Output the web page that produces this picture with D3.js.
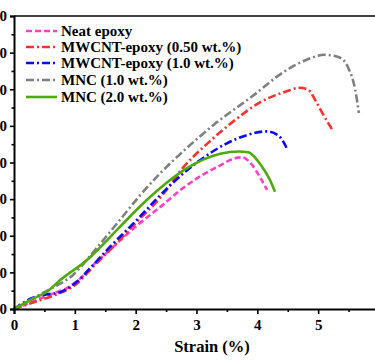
<!DOCTYPE html>
<html><head><meta charset="utf-8">
<script src="https://cdn.jsdelivr.net/npm/d3@7"></script>
<style>
html,body{margin:0;padding:0;background:#fff;overflow:hidden;}
svg{display:block;}
text{font-family:"Liberation Serif","Times New Roman",serif;font-weight:bold;fill:#000;}
</style></head>
<body>
<svg id="chart" width="375" height="360"></svg>
<script>
const seriesNames = ["Neat epoxy","MWCNT-epoxy (0.50 wt.%)","MWCNT-epoxy (1.0 wt.%)","MNC (1.0 wt.%)","MNC (2.0 wt.%)"];
const seriesColors = ["#ff40c8","#ff3030","#0a0aff","#808080","#4eaa0a"];
const seriesDash = ["6,3","8,3,2,3","8,3,2,3","8,3,2,3",null];

const neatEpoxy = [[0,0],[0.3,2],[0.6,4],[0.9,6],[1.1,8.5],[1.3,12],[1.6,16.5],[2,22.5],[2.4,27.8],[2.8,33.3],[3.1,36.6],[3.4,39.3],[3.6,41],[3.75,41.4],[3.9,39.6],[4.05,35.8],[4.16,32.5]];
const mwcnt050 = [[0,0],[0.35,2],[0.7,4],[1.0,6.5],[1.3,11.5],[1.6,16.5],[2,23.5],[2.4,30.3],[2.8,39],[3.2,45.5],[3.65,51.8],[4.05,56.5],[4.46,59.3],[4.7,60.4],[4.84,59.8],[4.95,57.1],[5.07,53.5],[5.25,48.4]];
const mwcnt10 = [[0,0],[0.3,3],[0.55,4],[0.76,4.6],[1.03,7.4],[1.3,12],[1.58,17],[2,24],[2.4,31],[2.81,37.4],[3.14,41.6],[3.52,45.4],[3.85,47.6],[4.16,48.5],[4.35,47.3],[4.45,45],[4.5,43.2]];
const mnc10 = [[0,0],[0.32,3],[0.6,5.5],[0.97,9.3],[1.3,15.5],[1.74,24.3],[2.07,31],[2.4,37],[2.81,43.5],[3.3,50.5],[3.91,58],[4.46,65],[4.8,68],[5.11,69.4],[5.36,68.6],[5.49,66],[5.61,59.8],[5.67,53.5]];
const mnc20 = [[0,0],[0.3,2.7],[0.54,4.7],[0.76,7.9],[1.2,13.4],[1.74,22.4],[2.07,28],[2.4,33],[2.9,39],[3.39,42.4],[3.7,43],[3.85,42.8],[3.98,41],[4.08,38.8],[4.2,35.5],[4.29,32]];
const allSeries = [neatEpoxy, mwcnt050, mwcnt10, mnc10, mnc20];

const xTicks = [0,1,2,3,4,5,6];
const yTicks = [0,10,20,30,40,50,60,70,80];
const xLabel = "Strain (%)";

const svg = d3.select("#chart");
const x = d3.scaleLinear().domain([0,6]).range([14,379]);
const y = d3.scaleLinear().domain([0,80]).range([309,16]);

const line = d3.line().x(d=>x(d[0])).y(d=>y(d[1])).curve(d3.curveMonotoneX);
allSeries.forEach((s,i)=>{
  svg.append("path").datum(s).attr("d",line)
    .attr("fill","none").attr("stroke",seriesColors[i])
    .attr("stroke-width",2.6)
    .attr("stroke-dasharray",seriesDash[i]);
});

svg.append("line").attr("x1",x(0)).attr("x2",x(6)).attr("y1",y(80)).attr("y2",y(80))
  .attr("stroke","#000").attr("stroke-width",1.6);

const xAxis = svg.append("g").attr("transform",`translate(0,${y(0)})`)
  .call(d3.axisBottom(x).tickValues(xTicks).tickFormat(d3.format("d")).tickSize(5).tickPadding(5));
xAxis.select(".domain").attr("stroke-width",2);
xAxis.selectAll(".tick line").attr("stroke-width",1.6);
xAxis.selectAll("text").style("font-size","15px");
svg.append("g").attr("transform",`translate(0,${y(0)})`)
  .call(d3.axisBottom(x).tickValues(d3.range(0.5,6,1)).tickFormat("").tickSize(3))
  .call(g=>{g.select(".domain").remove(); g.selectAll("line").attr("stroke-width",1.6);});

const yAxis = svg.append("g").attr("transform",`translate(${x(0)},0)`)
  .call(d3.axisLeft(y).tickValues(yTicks).tickFormat(d3.format("d")).tickSize(4).tickPadding(3));
yAxis.select(".domain").attr("stroke-width",2);
yAxis.selectAll(".tick line").attr("stroke-width",1.6);
yAxis.selectAll("text").style("font-size","15px");
svg.append("g").attr("transform",`translate(${x(0)},0)`)
  .call(d3.axisLeft(y).tickValues(d3.range(5,80,10)).tickFormat("").tickSize(2.5))
  .call(g=>{g.select(".domain").remove(); g.selectAll("line").attr("stroke-width",1.6);});

svg.append("text").attr("x",212).attr("y",352).attr("text-anchor","middle")
  .style("font-size","16.5px").text(xLabel);

const legY = [31,47,63,80,97];
seriesNames.forEach((n,i)=>{
  const g = svg.append("g");
  g.append("line").attr("x1",26).attr("x2",57).attr("y1",legY[i]).attr("y2",legY[i])
    .attr("stroke",seriesColors[i]).attr("stroke-width",2.6)
    .attr("stroke-dasharray",seriesDash[i]);
  g.append("text").attr("x",61).attr("y",legY[i]).attr("dy","0.35em")
    .style("font-size","15px").text(n);
});
</script>
</body></html>
